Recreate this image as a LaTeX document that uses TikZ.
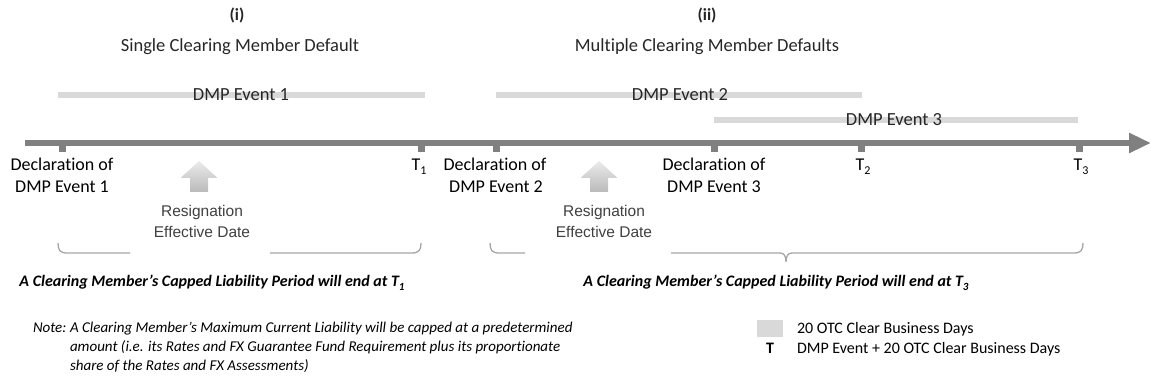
\documentclass[tikz,border=0pt]{standalone}
\usepackage{fontspec}
\setmainfont{Carlito}[Ligatures=NoCommon]
\newfontfamily\arialf{Liberation Sans}
\usetikzlibrary{arrows.meta}
\definecolor{axisg}{HTML}{808080}
\definecolor{barg}{HTML}{D9D9D9}
\definecolor{braceg}{HTML}{A6A6A6}
\definecolor{titlec}{HTML}{262626}
\definecolor{resc}{HTML}{404040}
\begin{document}
\begin{tikzpicture}[x=1pt,y=-1pt,
  every node/.style={inner sep=0pt,outer sep=0pt},
  bigtxt/.style={font=\fontsize{18.5}{22}\selectfont,text=titlec},
  axlbl/.style={font=\fontsize{18}{22}\selectfont,align=center,text=black},
  barline/.style={line width=6pt,draw=barg},
  tickmark/.style={line width=7pt,draw=axisg},
  restxt/.style={font=\arialf\fontsize{15.5}{20}\selectfont,align=center,text=resc},
  bracepart/.style={draw=braceg,line width=1.3pt},
  capped/.style={font=\fontsize{16}{19}\selectfont\bfseries\itshape,text=black},
  notetxt/.style={font=\fontsize{15}{18.5}\selectfont\itshape,text=black},
  legtxt/.style={font=\fontsize{16}{19}\selectfont,text=black},
  uparrow/.style={top color=black!8,bottom color=black!27,draw=none}
]
\useasboundingbox (0,0) rectangle (1151,387);

% titles
\node[bigtxt,font=\fontsize{17}{20}\selectfont\bfseries,anchor=base] (ti) at (237,21) {(i)};
\node[bigtxt,anchor=base] (tiname) at (240,52) {Single Clearing Member Default};
\node[bigtxt,font=\fontsize{17}{20}\selectfont\bfseries,anchor=base] (tii) at (707,21) {(ii)};
\node[bigtxt,anchor=base] (tiiname) at (707,52) {Multiple Clearing Member Defaults};

% bars
\coordinate (b1s) at (58,95);  \coordinate (b1e) at (425,95);
\coordinate (b2s) at (496,95); \coordinate (b2e) at (862,95);
\coordinate (b3s) at (714,120);\coordinate (b3e) at (1078,120);
\draw[barline] (b1s) -- (b1e);
\draw[barline] (b2s) -- (b2e);
\draw[barline] (b3s) -- (b3e);
\node[bigtxt,anchor=base] (ev1) at (241,101) {DMP Event 1};
\node[bigtxt,anchor=base] (ev2) at (680,101) {DMP Event 2};
\node[bigtxt,anchor=base] (ev3) at (894,126) {DMP Event 3};

% axis
\coordinate (axs) at (25,143);
\coordinate (axe) at (1151,143);
\draw[line width=6.5pt,draw=axisg,-{Triangle[length=22pt,width=19pt]}] (axs) -- (axe);

% ticks
\foreach \n/\x in {d1/62,t1/421,d2/496,d3/714,t2/861,t3/1079}{
  \coordinate (\n) at (\x,146);
  \draw[tickmark] (\n) -- ++(0,6);
}

% axis labels
\node[axlbl,anchor=base] (ld1a) at (62,171) {Declaration of};
\node[axlbl,anchor=base] (ld1b) at (62,193) {DMP Event 1};
\node[axlbl,anchor=base] (ld2a) at (495,171) {Declaration of};
\node[axlbl,anchor=base] (ld2b) at (496,193) {DMP Event 2};
\node[axlbl,anchor=base] (ld3a) at (714,171) {Declaration of};
\node[axlbl,anchor=base] (ld3b) at (714,193) {DMP Event 3};
\node[axlbl,anchor=base] (lt1) at (419,171) {T\raisebox{-0.45ex}{\fontsize{12}{12}\selectfont 1}};
\node[axlbl,anchor=base] (lt2) at (863,171) {T\raisebox{-0.45ex}{\fontsize{12}{12}\selectfont 2}};
\node[axlbl,anchor=base] (lt3) at (1081,171) {T\raisebox{-0.45ex}{\fontsize{12}{12}\selectfont 3}};

% up arrows
\foreach \n/\x in {ua1/199,ua2/599}{
  \coordinate (\n) at (\x,161);
  \path[uparrow] (\n) -- ++(18.5,17) -- ++(-9.5,0) -- ++(0,14) -- ++(-18,0) -- ++(0,-14) -- ++(-9.5,0) -- cycle;
}
\node[restxt,anchor=base] (r1a) at (202,217) {Resignation};
\node[restxt,anchor=base] (r1b) at (202,238) {Effective Date};
\node[restxt,anchor=base] (r2a) at (604,217) {Resignation};
\node[restxt,anchor=base] (r2b) at (604,238) {Effective Date};

% braces
\draw[bracepart] (58,243) .. controls (58,250) and (60,253) .. (67,253) -- (130,253);
\draw[bracepart] (270,253) -- (412,253) .. controls (419,253) and (421,250) .. (421,243);
\draw[bracepart] (490,243) .. controls (490,250) and (492,253) .. (499,253) -- (525,253);
\draw[bracepart] (671,253) -- (780,253) .. controls (784,253) and (786,256) .. (786,262)
   .. controls (786,256) and (788,253) .. (792,253) -- (1074,253) .. controls (1081,253) and (1083,250) .. (1083,243);

% capped liability texts
\node[capped,anchor=base] (cap1) at (212,287) {A Clearing Member’s Capped Liability Period will end at T\raisebox{-0.45ex}{\fontsize{11}{11}\selectfont 1}};
\node[capped,anchor=base] (cap2) at (776,287) {A Clearing Member’s Capped Liability Period will end at T\raisebox{-0.45ex}{\fontsize{11}{11}\selectfont 3}};

% note
\node[notetxt,anchor=base west] (note0) at (33,332) {Note:};
\node[notetxt,anchor=base west] (note1) at (70,332) {A Clearing Member’s Maximum Current Liability will be capped at a predetermined};
\node[notetxt,anchor=base west] (note2) at (70,351) {amount (i.e. its Rates and FX Guarantee Fund Requirement plus its proportionate};
\node[notetxt,anchor=base west] (note3) at (70,370) {share of the Rates and FX Assessments)};

% legend
\node[fill=barg,minimum width=26pt,minimum height=17pt,anchor=north west] (legsq) at (757,320) {};
\node[legtxt,anchor=base west] (leg1) at (797,334) {20 OTC Clear Business Days};
\node[legtxt,font=\fontsize{16}{19}\selectfont\bfseries,anchor=base] (legT) at (770,353) {T};
\node[legtxt,anchor=base west] (leg2) at (797,353) {DMP Event + 20 OTC Clear Business Days};
\end{tikzpicture}
\end{document}
